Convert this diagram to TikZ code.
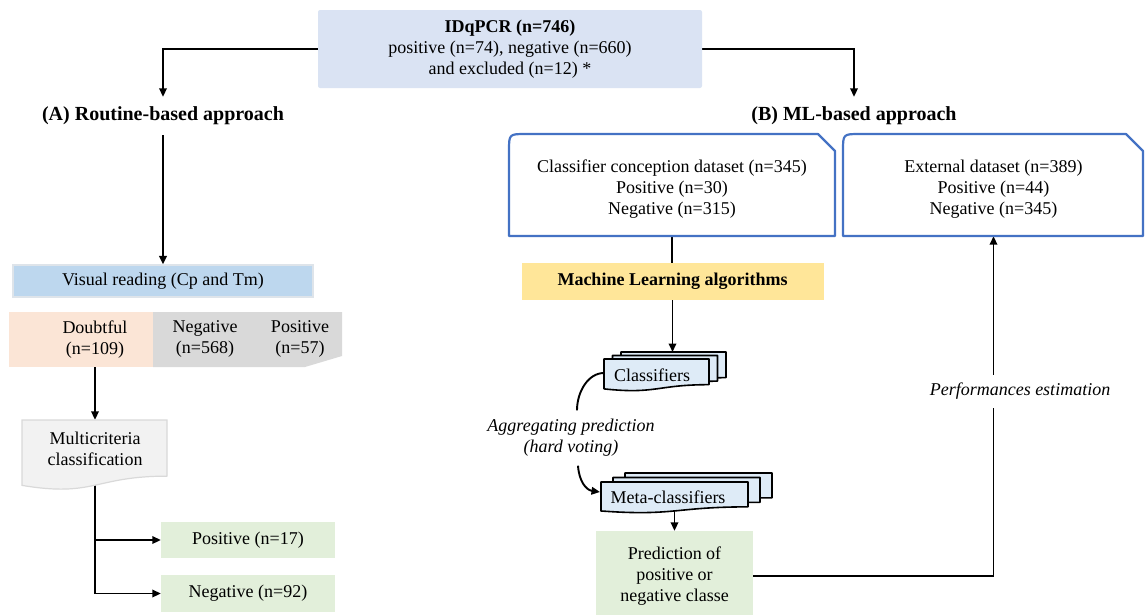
\documentclass[tikz,border=0pt]{standalone}
\usepackage{fontspec}
\setmainfont{Liberation Serif}
\usetikzlibrary{arrows.meta}
\definecolor{topfill}{RGB}{218,227,243}
\definecolor{visfill}{RGB}{189,215,238}
\definecolor{visline}{RGB}{222,228,234}
\definecolor{peach}{RGB}{251,229,214}
\definecolor{grayfill}{RGB}{217,217,217}
\definecolor{mcfill}{RGB}{242,242,242}
\definecolor{mcline}{RGB}{217,217,217}
\definecolor{greenfill}{RGB}{226,239,218}
\definecolor{yellowfill}{RGB}{255,230,153}
\definecolor{dsblue}{RGB}{68,114,196}
\definecolor{stackfill}{RGB}{222,235,247}
\pgfdeclarelayer{lines}
\pgfsetlayers{lines,main}
\newcommand\mydocshape[5]{%
  \pgfmathsetmacro\mdXa{#2}%
  \pgfmathsetmacro\mdXb{#2+#4}%
  \pgfmathsetmacro\mdXm{#2+0.5*#4}%
  \pgfmathsetmacro\mdYa{#3}%
  \pgfmathsetmacro\mdYr{#3+0.802*#5}%
  \pgfmathsetmacro\mdYc{#3+1.1075*#5}%
  \pgfmathsetmacro\mdYl{#3+0.934*#5}%
  \path[#1] (\mdXa,\mdYa) -- (\mdXb,\mdYa) -- (\mdXb,\mdYr) .. controls (\mdXm,\mdYr) and (\mdXm,\mdYc) .. (\mdXa,\mdYl) -- cycle;}
\tikzset{
  txt/.style={font=\fontsize{18}{21}\selectfont, align=center, inner sep=0pt},
  txtb/.style={txt, font=\fontsize{18}{21}\selectfont\bfseries},
  txti/.style={txt, font=\fontsize{18}{21}\selectfont\itshape},
  hdr/.style={txt, font=\fontsize{20}{24}\selectfont\bfseries},
  conn/.style={line width=1.9pt, black},
  arr/.style={conn, -{Triangle[length=8.5pt,width=7.5pt]}},
  dsbox/.style={draw=dsblue, line width=2.2pt, fill=white, line join=round},
  stackdoc/.style={draw=black, line width=1.6pt, fill=stackfill, line join=round},
  mcdoc/.style={draw=mcline, line width=1.2pt, fill=mcfill},
}
\begin{document}
\begin{tikzpicture}[x=1pt,y=-1pt]
\useasboundingbox (0,0) rectangle (1146,614);

% ---- top box and headers
\node[txt, fill=topfill, rounded corners=2pt, minimum width=384pt, minimum height=78pt] (top) at (510,49)
  {\textbf{IDqPCR (n=746)}\\positive (n=74), negative (n=660)\\and excluded (n=12) *};
\node[hdr, minimum height=38pt] (hA) at (163,116) {(A) Routine-based approach};
\node[hdr, minimum height=38pt] (hB) at (854,116) {(B) ML-based approach};

% ---- routine-based branch
\node[txt, fill=visfill, draw=visline, line width=1.2pt, minimum width=300pt, minimum height=32pt] (vis) at (163,281) {Visual reading (Cp and Tm)};
\fill[peach] (9,312) rectangle (153,367);
\fill[grayfill] (153,312) -- (342,312) -- (342,356) -- (305,367) -- (153,367) -- cycle;
\node[txt, minimum height=55pt] (dbt) at (95,339.5) {Doubtful\\(n=109)};
\node[txt] (neg568) at (205,339) {Negative\\(n=568)};
\node[txt] (pos57) at (300,339) {Positive\\(n=57)};
\mydocshape{mcdoc}{22}{420}{145}{70}
\node[txt, minimum height=57pt] (mc) at (95,448.5) {Multicriteria\\classification};
\node[txt, fill=greenfill, minimum width=174pt, minimum height=36pt] (p17) at (248,540) {Positive (n=17)};
\node[txt, fill=greenfill, minimum width=174pt, minimum height=37pt] (n92) at (248,593.5) {Negative (n=92)};

% ---- ML-based branch
\path[dsbox] (509,236) -- (509,151) .. controls (509,134) .. (526,134) -- (818,134) -- (835,151) -- (835,236) -- cycle;
\node[txt, minimum width=326pt, minimum height=94pt] (cds) at (672,189)
  {Classifier conception dataset (n=345)\\Positive (n=30)\\Negative (n=315)};
\path[dsbox] (843,236) -- (843,151) .. controls (843,134) .. (860,134) -- (1126,134) -- (1143,151) -- (1143,236) -- cycle;
\node[txt, minimum width=300pt, minimum height=94pt] (ext) at (993.5,189)
  {External dataset (n=389)\\Positive (n=44)\\Negative (n=345)};
\node[txtb, fill=yellowfill, minimum width=302pt, minimum height=37pt] (ml) at (672.5,281.5) {Machine Learning algorithms};

\mydocshape{stackdoc}{621}{352}{105}{32}
\mydocshape{stackdoc}{612.5}{355.5}{105}{32}
\mydocshape{stackdoc}{604}{359}{105}{32}
\node[txt] (cls) at (652,375) {Classifiers};
\coordinate (clsT) at (672.5,352);
\coordinate (clsL) at (604,373);

\node[txti, minimum height=55pt] (agg) at (571,438) {Aggregating prediction\\(hard voting)};

\mydocshape{stackdoc}{625}{473}{147}{31}
\mydocshape{stackdoc}{613}{477.5}{147}{31}
\mydocshape{stackdoc}{601}{482}{147}{31}
\node[txt] (meta) at (668,497) {Meta-classifiers};
\coordinate (metaL) at (600,492);
\coordinate (metaB) at (674.5,511);

\node[txt, fill=greenfill, minimum width=157pt, minimum height=90pt] (pred) at (674.5,576) {Prediction of\\positive or\\negative classe};
\node[txti, fill=white, minimum height=33pt] (perf) at (1020,391.5) {Performances estimation};

% ---- connectors (below shapes)
\begin{pgfonlayer}{lines}
\draw[arr] (top.west) -| (hA.north);
\draw[arr] (top.east) -| (hB.north);
\draw[arr] (hA.south) -- (vis.north);
\draw[arr] (dbt.south) -- (mc.north);
\draw[arr] (mc.south) |- (p17.west);
\draw[arr] (mc.south) |- (n92.west);
\draw[conn] (cds.south) -- (cds.south |- ml.north);
\draw[arr] (ml.south) -- (clsT);
\draw[conn] (clsL) .. controls (588,373) and (577,392) .. ([xshift=6pt]agg.north);
\draw[arr] ([xshift=7pt]agg.south) .. controls (579,481) and (586,490) .. (metaL);
\draw[arr] (metaB) -- (metaB |- pred.north);
\draw[arr] (pred.east) -| (ext.south);
\end{pgfonlayer}
\end{tikzpicture}
\end{document}
